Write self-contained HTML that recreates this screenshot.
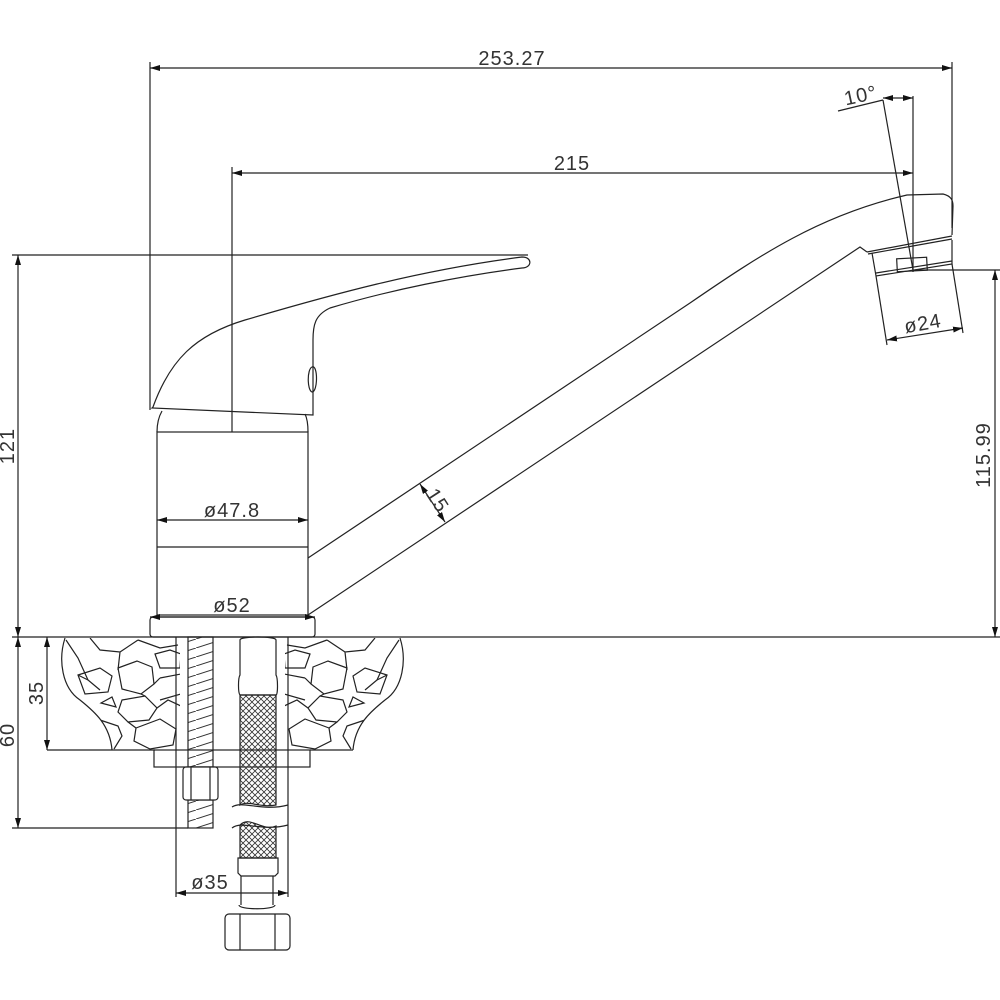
<!DOCTYPE html>
<html><head><meta charset="utf-8"><style>
html,body{margin:0;padding:0;background:#fff;}
svg{display:block}
text{font-family:"Liberation Sans",sans-serif;font-size:20px;fill:#333;letter-spacing:1px;}
</style></head><body>
<svg width="1000" height="1000" viewBox="0 0 1000 1000" xmlns="http://www.w3.org/2000/svg">
<defs>
<marker id="a" viewBox="0 0 10 6" refX="10" refY="3" markerWidth="10" markerHeight="6" orient="auto-start-reverse" markerUnits="userSpaceOnUse"><path d="M0,0L10,3L0,6z" fill="#111"/></marker>
<pattern id="mesh" width="6" height="6" patternUnits="userSpaceOnUse"><path d="M0,0L6,6M6,0L0,6" stroke="#333" stroke-width="0.8"/></pattern>
<pattern id="thr" width="28" height="9" patternUnits="userSpaceOnUse"><path d="M0,9L28,0" stroke="#333" stroke-width="1"/></pattern>
<clipPath id="stoneL"><path d="M65,638 L180,638 L180,750 L112,750 C110,725 95,712 80,700 C62,688 58,660 65,638Z"/></clipPath>
</defs>
<g fill="none" stroke="#222" stroke-width="1.2">
<line x1="150" y1="62" x2="150" y2="410"/>
<line x1="952" y1="62" x2="952" y2="228"/>
<line x1="150" y1="68" x2="952" y2="68" marker-start="url(#a)" marker-end="url(#a)"/>
<line x1="232" y1="167" x2="232" y2="432"/>
<line x1="913" y1="96" x2="913" y2="272"/>
<line x1="232" y1="173" x2="913" y2="173" marker-start="url(#a)" marker-end="url(#a)"/>
<line x1="883" y1="100" x2="913" y2="270"/>
<line x1="838" y1="111" x2="883" y2="100"/>
<line x1="883" y1="98" x2="913" y2="98" marker-start="url(#a)" marker-end="url(#a)"/>
<line x1="12" y1="255" x2="528" y2="255"/>
<line x1="18" y1="255" x2="18" y2="637" marker-start="url(#a)" marker-end="url(#a)"/>
<line x1="12" y1="637" x2="1000" y2="637"/>
<line x1="915" y1="270" x2="1000" y2="270"/>
<line x1="995" y1="270" x2="995" y2="637" marker-start="url(#a)" marker-end="url(#a)"/>
<path d="M153,407 C170,360 195,335 245,320 C330,295 420,270 522,257 C533,257 532,268 522,268 C460,276 390,290 330,308 C315,315 313,325 313,340 L313,415 L152,408 Z"/>
<path d="M312,367 C318,364 318,392 312,392 C307,390 307,369 312,367Z"/>
<path d="M162,411 C158,418 157,426 157,432 M308,432 C308,425 307,418 305,414"/>
<rect x="157" y="432" width="151" height="183"/>
<line x1="157" y1="547" x2="308" y2="547"/>
<rect x="150" y="617" width="165" height="20" rx="3"/>
<line x1="157" y1="520" x2="308" y2="520" marker-start="url(#a)" marker-end="url(#a)"/>
<line x1="150" y1="617" x2="315" y2="617" marker-start="url(#a)" marker-end="url(#a)"/>
<path d="M308,558 L690,303 C760,255 820,215 907,195 L943,194 C951,196 953,200 953,206 L952,235"/>
<path d="M308,615 L860,247 L867,252"/>
<path d="M867,252 L952,236 M868,254 L952,239"/>
<path d="M872,253 L876,276 L952,264 L952,240 M876,273 L952,261"/>
<rect x="897" y="258" width="30" height="13" transform="rotate(-3 912 265)"/>
<line x1="876" y1="276" x2="887" y2="345"/>
<line x1="952" y1="264" x2="963" y2="333"/>
<line x1="887" y1="340" x2="963" y2="328" marker-start="url(#a)" marker-end="url(#a)"/>
<line x1="420" y1="484" x2="445" y2="522" marker-start="url(#a)" marker-end="url(#a)"/>
<path d="M65,638 C58,660 62,688 80,700 C95,712 110,725 112,750 M400,638 C407,660 403,688 385,700 C370,712 355,725 353,750"/>
<line x1="47" y1="750" x2="155" y2="750"/>
<line x1="310" y1="750" x2="353" y2="750"/>
<g clip-path="url(#stoneL)" id="st">
<path d="M66,640 L78,658 L88,680 L100,690 M90,638 L100,650 L120,652 L138,640 M120,652 L118,670 M138,640 L160,648 L178,645"/>
<path d="M78,675 L100,668 L112,676 L108,692 L85,694 Z"/>
<path d="M118,668 L137,661 L152,667 L154,684 L141,694 L122,689 Z"/>
<path d="M155,654 L170,650 L181,654 L180,668 L160,668 Z"/>
<path d="M101,703 L112,697 L116,707 Z"/>
<path d="M122,700 L145,696 L157,708 L149,720 L128,722 L118,712 Z"/>
<path d="M160,678 L181,674 M160,700 L181,694"/>
<path d="M100,720 L118,726 L122,736 L114,749"/>
<path d="M136,728 L160,719 L176,729 L173,745 L150,749 L134,741 Z"/>
<path d="M128,722 L136,728 M157,708 L168,700 L181,706"/>
<path d="M88,680 L78,675 M154,684 L160,678 M141,694 L145,696"/>
</g>
<use href="#st" transform="translate(465,0) scale(-1,1)"/>
<line x1="47" y1="637" x2="47" y2="750" marker-start="url(#a)" marker-end="url(#a)"/>
<line x1="18" y1="637" x2="18" y2="828" marker-start="url(#a)" marker-end="url(#a)"/>
<line x1="12" y1="828" x2="188" y2="828"/>
<line x1="176" y1="637" x2="176" y2="897"/>
<line x1="288" y1="637" x2="288" y2="897"/>
<line x1="176" y1="893" x2="288" y2="893" marker-start="url(#a)" marker-end="url(#a)"/>
<rect x="154" y="750" width="156" height="17"/>
<rect x="188" y="637" width="25" height="130" fill="url(#thr)"/>
<rect x="188" y="800" width="25" height="28" fill="url(#thr)"/>
<rect x="183" y="767" width="35" height="33" rx="3" fill="#fff"/>
<line x1="191" y1="767" x2="191" y2="800"/><line x1="210" y1="767" x2="210" y2="800"/>
<path d="M240,640 C240,636 276,636 276,640 L276,675 C278,678 278,695 276,695 L240,695 C238,693 238,678 240,675 Z"/>
<path d="M240,695 L240,805 C248,800 260,808 276,805 L276,695 Z" fill="url(#mesh)"/>
<path d="M240,825 C250,815 262,832 276,826 L276,858 L240,858 Z" fill="url(#mesh)"/>
<path d="M232,807 C242,800 262,812 288,805 M232,828 C242,820 262,832 288,825"/>
<path d="M238,858 L278,858 L278,873 L275,876 L241,876 L238,873 Z"/>
<path d="M241,876 L241,905 M273,876 L273,905 M239,905 C239,910 275,910 275,905"/>
<rect x="225" y="914" width="65" height="36" rx="4"/>
<line x1="240" y1="914" x2="240" y2="950"/><line x1="275" y1="914" x2="275" y2="950"/>
</g>
<g stroke="none">
<text x="512" y="65" text-anchor="middle">253.27</text>
<text x="572" y="170" text-anchor="middle">215</text>
<text transform="translate(862,102) rotate(-12)" text-anchor="middle">10°</text>
<text x="232" y="517" text-anchor="middle">ø47.8</text>
<text x="232" y="612" text-anchor="middle">ø52</text>
<text transform="translate(924,330) rotate(-10)" text-anchor="middle">ø24</text>
<text transform="translate(432,504) rotate(57)" text-anchor="middle">15</text>
<text transform="translate(14,446) rotate(-90)" text-anchor="middle">121</text>
<text transform="translate(990,455) rotate(-90)" text-anchor="middle">115.99</text>
<text transform="translate(43,693) rotate(-90)" text-anchor="middle">35</text>
<text transform="translate(14,735) rotate(-90)" text-anchor="middle">60</text>
<text x="210" y="889" text-anchor="middle">ø35</text>
</g>
</svg>
</body></html>
